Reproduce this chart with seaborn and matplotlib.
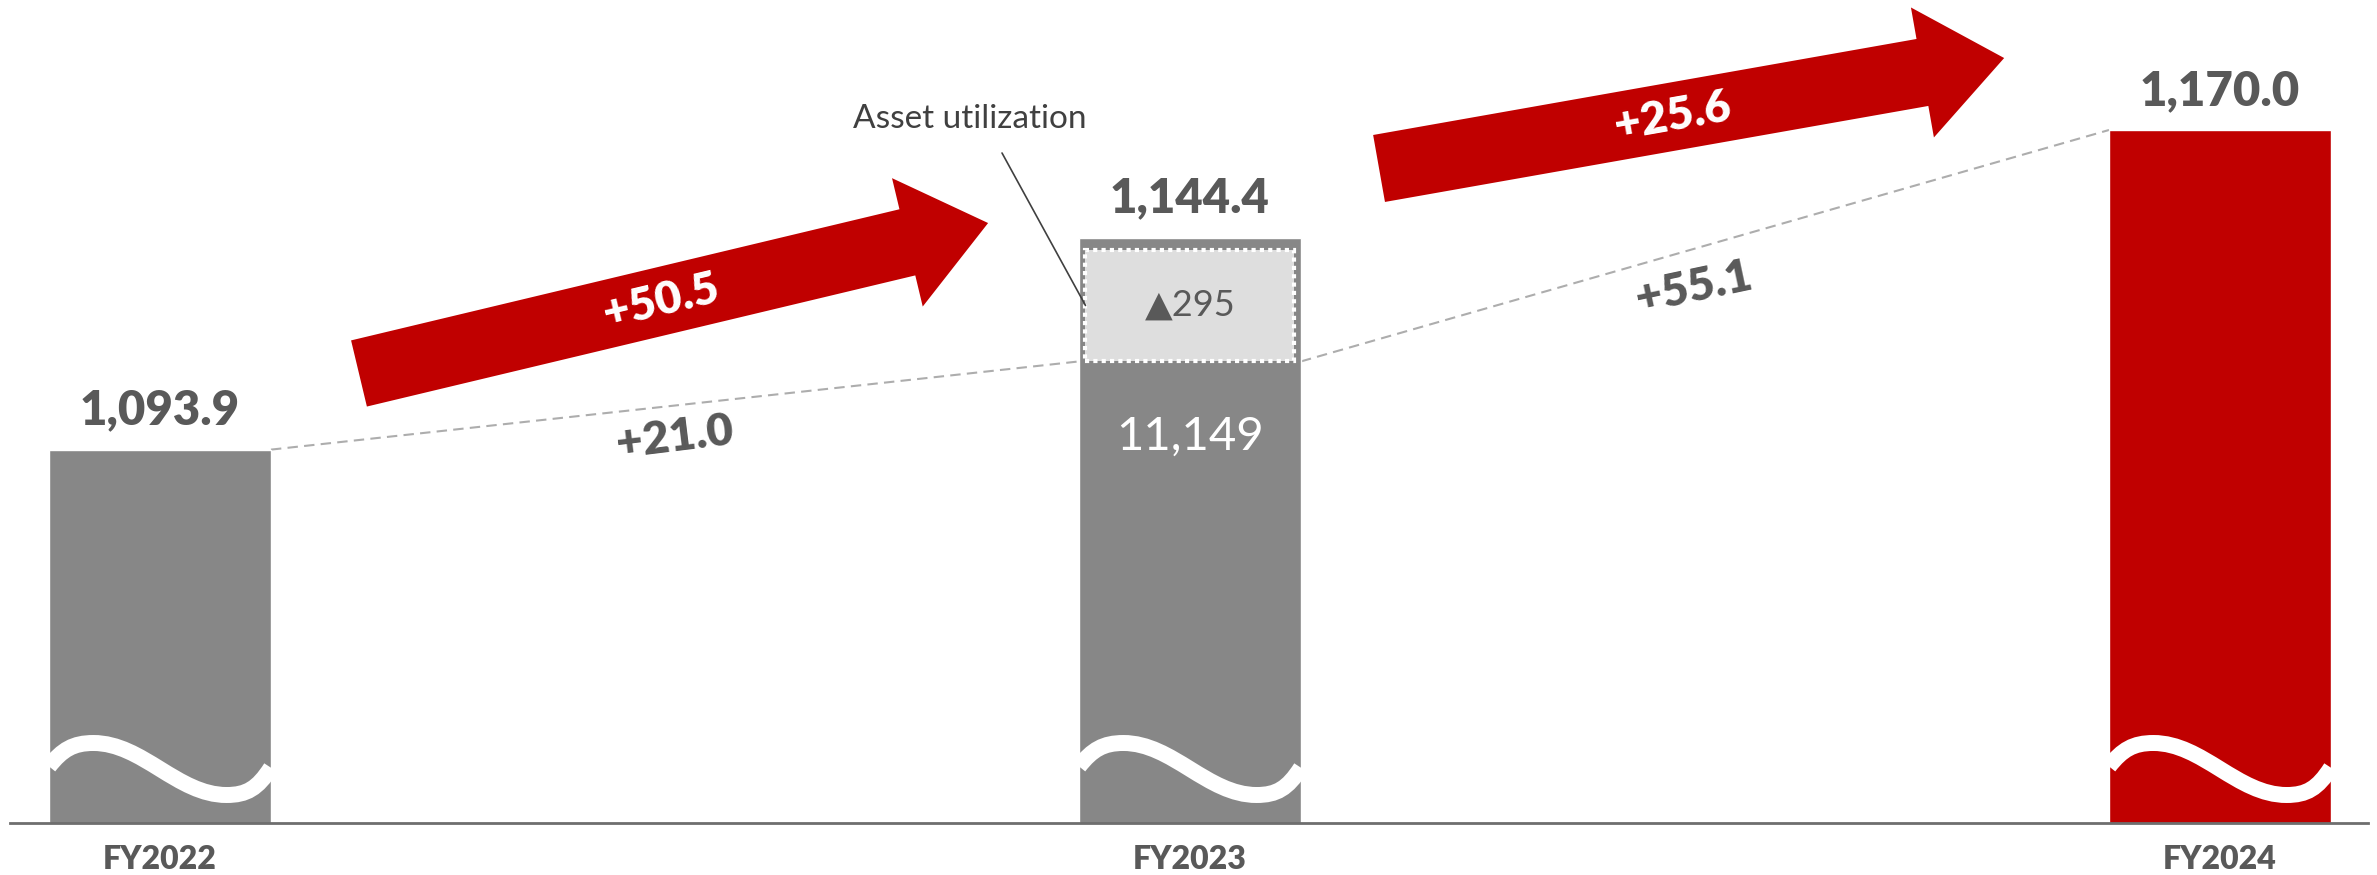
import numpy as np
import pandas as pd
import matplotlib
matplotlib.use("Agg")
import matplotlib.pyplot as plt
from matplotlib.path import Path
from matplotlib.patches import PathPatch, Polygon, Rectangle
from matplotlib.transforms import IdentityTransform, blended_transform_factory
import seaborn as sns

# ---- data ----
years = ["FY2022", "FY2023", "FY2024"]
sales = [1093.9, 1144.4, 1170.0]
value_labels = ["1,093.9", "1,144.4", "1,170.0"]

# FY2023 breakdown: base level plus asset-utilization gain
base_2023 = 1114.9
asset_util = 29.5
base_2023_label = "11,149"
asset_util_label = "▲295"
asset_util_title = "Asset utilization"

# step labels between the years
dashed_steps = ["+21.0", "+55.1"]
arrow_steps = ["+50.5", "+25.6"]

# ---- style ----
sns.set_theme(style="white")
plt.rcParams["font.family"] = ["Lato", "DejaVu Sans"]

GRAY_BAR = "#878787"
RED = "#C00000"
GRAY_TEXT = "#595959"
DARK_TEXT = "#404040"
DASH_GRAY = "#ADADAD"
BOX_FILL = "#DEDEDE"
BOLD = "heavy"

W, H = 2377, 875
fig = plt.figure(figsize=(W / 100, H / 100), dpi=100)
ax = fig.add_axes([10 / W, 52 / H, 2358 / W, 823 / H])

df = pd.DataFrame({"year": years, "sales": sales})
bar_w = 0.2155
sns.barplot(data=df, x="year", y="sales", hue="year",
            palette=[GRAY_BAR, GRAY_BAR, RED], saturation=1,
            width=bar_w, errorbar=None, legend=False, ax=ax, zorder=2)

# broken value axis: only the upper part of the bars is shown
ymin = 1005.0
px_per_unit = 4.2
ax.set_ylim(ymin, ymin + 823 / px_per_unit)
ax.set_xlim(-0.1456, 2.1437)

sns.despine(ax=ax, left=True)
ax.spines["bottom"].set_color("#6E6E6E")
ax.spines["bottom"].set_linewidth(2.0)
ax.set_yticks([])
ax.set_xlabel("")
ax.set_ylabel("")
ax.set_xticks(range(len(years)))
ax.set_xticklabels(years, fontsize=23, fontweight=BOLD, color=GRAY_TEXT)
ax.tick_params(axis="x", length=0, pad=16)

# value labels above the bars
for i, (v, lab) in enumerate(zip(sales, value_labels)):
    ax.annotate(lab, (i, v), xytext=(0, 18), textcoords="offset points",
                ha="center", va="baseline", fontsize=34,
                fontweight=BOLD, color=GRAY_TEXT)

# asset-utilization box on top of the FY2023 base
gap = 12 / px_per_unit
box_w = 0.2029
box_h = asset_util - gap
ax.bar(1, box_h, bottom=base_2023, width=box_w, color=BOX_FILL,
       edgecolor="white", linewidth=3.0, linestyle=(0, (1, 1)), zorder=3)
ax.text(1, base_2023 + box_h / 2, asset_util_label, ha="center",
        va="center", fontsize=26, color=GRAY_TEXT, zorder=4,
        family=["Lato", "DejaVu Sans"])
ax.annotate(base_2023_label, (1, base_2023), xytext=(0, -54),
            textcoords="offset points", ha="center", va="center",
            fontsize=34, color="white", zorder=4)

ax.text(0.4071, 0.8445, asset_util_title, transform=ax.transAxes,
        ha="center", va="baseline", fontsize=24, color=DARK_TEXT)
ax.annotate("", xy=(1 - box_w / 2, base_2023 + box_h / 2), xycoords="data",
            xytext=(0.4207, 0.8141), textcoords="axes fraction",
            arrowprops=dict(arrowstyle="-", color=DARK_TEXT, lw=1.2,
                            shrinkA=0, shrinkB=0))

# dashed connectors between the levels
dash_style = dict(ls=(0, (5, 3)), color=DASH_GRAY, lw=1.5, zorder=1)
ax.plot([bar_w / 2, 1 - bar_w / 2], [sales[0], base_2023], **dash_style)
ax.plot([1 + bar_w / 2, 2 - bar_w / 2], [base_2023, sales[2]], **dash_style)

ax.annotate(dashed_steps[0], (0.5, (sales[0] + base_2023) / 2),
            xytext=(0, -23), textcoords="offset points", ha="center",
            va="center", rotation=7, rotation_mode="anchor", fontsize=33,
            fontweight=BOLD, color=GRAY_TEXT)
ax.annotate(dashed_steps[1], (1.5, (base_2023 + sales[2]) / 2),
            xytext=(-8, -30), textcoords="offset points", ha="center",
            va="center", rotation=12, rotation_mode="anchor", fontsize=33,
            fontweight=BOLD, color=GRAY_TEXT)

# wavy break marks across the bars
bez = [(0.0, 0.1), (0.06, 0.75), (0.11, 1.0), (0.2, 1.0),
       (0.42, 1.0), (0.58, -1.0), (0.8, -1.0),
       (0.89, -1.0), (0.94, -0.75), (1.0, 0.05)]
codes = [Path.MOVETO] + [Path.CURVE4] * 9
wave_trans = blended_transform_factory(ax.transData, ax.transAxes)
wave_c, wave_a = 54 / 823, 26 / 823
for i, v in enumerate(sales):
    left = i - bar_w / 2
    verts = [(left + t * bar_w, wave_c + s * wave_a) for t, s in bez]
    wave = PathPatch(Path(verts, codes), transform=wave_trans,
                     facecolor="none", edgecolor="white", lw=11.5,
                     capstyle="butt", zorder=3)
    clip = Rectangle((left, ymin), bar_w, v - ymin, transform=ax.transData)
    ax.add_artist(wave)
    wave.set_clip_path(clip)


# red block arrows with the step values
def block_arrow(start, end, label, shaft_w=68, head_w=132, head_len=83,
                label_pos=0.48):
    p0 = ax.transAxes.transform(start)
    p1 = ax.transAxes.transform(end)
    d = p1 - p0
    length = np.hypot(*d)
    u = d / length
    n = np.array([-u[1], u[0]])
    neck = p1 - u * head_len
    verts = [p0 + n * shaft_w / 2, neck + n * shaft_w / 2,
             neck + n * head_w / 2, p1, neck - n * head_w / 2,
             neck - n * shaft_w / 2, p0 - n * shaft_w / 2]
    fig.add_artist(Polygon(verts, closed=True, transform=IdentityTransform(),
                           facecolor=RED, edgecolor="none", zorder=5))
    angle = np.degrees(np.arctan2(d[1], d[0]))
    pos = p0 + u * length * label_pos
    fig.text(pos[0], pos[1], label, transform=IdentityTransform(),
             ha="center", va="center", rotation=angle,
             rotation_mode="anchor", fontsize=33, fontweight=BOLD,
             color="white", zorder=6)


block_arrow((0.1480, 0.5462), (0.4148, 0.7290), arrow_steps[0])
block_arrow((0.5806, 0.7953), (0.8457, 0.9295), arrow_steps[1], label_pos=0.47)

fig.savefig("out.png", dpi=100)
